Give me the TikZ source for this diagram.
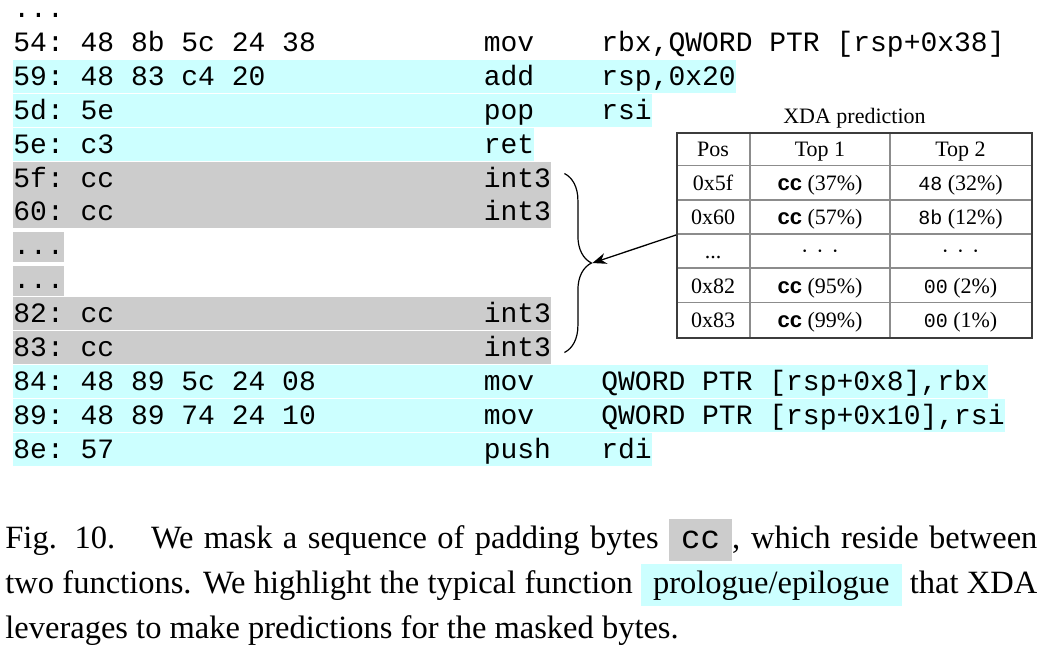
\documentclass[tikz,border=0pt]{standalone}
\usepackage{fontspec}
\setmainfont{Liberation Serif}
\setsansfont{Liberation Sans}
\setmonofont{Liberation Mono}
\usetikzlibrary{positioning, calc, decorations.pathreplacing, arrows.meta}

\definecolor{fncyan}{RGB}{204,255,255}
\definecolor{padgray}{RGB}{204,204,204}
\definecolor{tblframe}{RGB}{60,60,60}
\definecolor{tblrule}{RGB}{140,140,140}

\newlength\chw
\setlength\chw{8.4pt}
\newcommand\cpad[2]{\makebox[#1\chw][l]{#2}}
\newcommand\codefont{\ttfamily\fontsize{14}{17}\selectfont}
\newcommand\tblfont{\fontsize{11}{13}\selectfont}
\newcommand\capfont{\fontsize{16.25}{22.5}\selectfont}
\newcommand\ccb{\textsf{\bfseries cc}}
\newcommand\tbyte[1]{{\ttfamily\fontsize{10}{12}\selectfont #1}}
\newcommand\middots{\textperiodcentered\hspace{4pt}\textperiodcentered\hspace{4pt}\textperiodcentered}
\newcommand\hlbox[2]{{\setlength\fboxsep{0pt}\colorbox{#1}{\hspace{6pt}\rule[-6.5pt]{0pt}{21pt}#2\hspace{6pt}}}}

\begin{document}
\begin{tikzpicture}[x=1pt, y=1pt,
    codeline/.style={anchor=west, inner xsep=0pt, inner ysep=0pt, text height=12.75pt, text depth=3.7pt, font=\codefont},
    fnband/.style={codeline, fill=fncyan},
    padband/.style={codeline, fill=padgray},
    cell/.style={anchor=base, inner sep=0pt, font=\tblfont}]
  \useasboundingbox (0,0) rectangle (526.5,-325);

  % listing
  \node[codeline, anchor=base west, text height=2pt] (rtop) at (6.5,-8.9) {...};
  \node[codeline] (r54) at (6.5,-21.2) {\cpad{28}{54: 48 8b 5c 24 38}\cpad{7}{mov}rbx,QWORD PTR [rsp+0x38]};
  \node[fnband] (r59) at (6.5,-38.15) {\cpad{28}{59: 48 83 c4 20}\cpad{7}{add}rsp,0x20};
  \node[fnband] (r5d) at (6.5,-55.1) {\cpad{28}{5d: 5e}\cpad{7}{pop}rsi};
  \node[fnband] (r5e) at (6.5,-72.05) {\cpad{28}{5e: c3}ret};
  \node[padband, text depth=4.2pt] (r5f) at (6.5,-89.25) {\cpad{28}{5f: cc}int3};
  \node[padband] (r60) at (6.5,-105.95) {\cpad{28}{60: cc}int3};
  \node[padband, text height=11.5pt] (rskip1) at (6.5,-123.5) {...};
  \node[padband, text height=11.5pt] (rskip2) at (6.5,-140.45) {...};
  \node[padband] (r82) at (6.5,-156.8) {\cpad{28}{82: cc}int3};
  \node[padband] (r83) at (6.5,-173.75) {\cpad{28}{83: cc}int3};
  \node[fnband] (r84) at (6.5,-190.7) {\cpad{28}{84: 48 89 5c 24 08}\cpad{7}{mov}QWORD PTR [rsp+0x8],rbx};
  \node[fnband] (r89) at (6.5,-207.65) {\cpad{28}{89: 48 89 74 24 10}\cpad{7}{mov}QWORD PTR [rsp+0x10],rsi};
  \node[fnband] (r8e) at (6.5,-224.6) {\cpad{28}{8e: 57}\cpad{7}{push}rdi};

  % brace over the padding bytes
  \coordinate (btop) at ([xshift=6.5pt, yshift=2.5pt]r60.east |- r5f.east);
  \coordinate (bbot) at ([xshift=6.5pt, yshift=-2.5pt]r83.east);
  \draw[decorate, decoration={brace, amplitude=13.5pt}, line width=0.6pt] (btop) -- (bbot);
  \coordinate (btip) at ($(btop)!0.5!(bbot)+(13.5,0)$);

  % prediction table
  \draw[tblrule, line width=0.7pt] (375,-65.75) -- (375,-168.25);
  \draw[tblrule, line width=0.7pt] (445,-65.75) -- (445,-168.25);
  \draw[tblrule, line width=0.7pt] (338,-82.83) -- (515.5,-82.83);
  \draw[tblrule, line width=0.7pt] (338,-99.92) -- (515.5,-99.92);
  \draw[tblrule, line width=0.7pt] (338,-117) -- (515.5,-117);
  \draw[tblrule, line width=0.7pt] (338,-134.08) -- (515.5,-134.08);
  \draw[tblrule, line width=0.7pt] (338,-151.17) -- (515.5,-151.17);
  \node[draw=tblframe, line width=1pt, inner sep=0pt, minimum width=177.5pt, minimum height=102.5pt, anchor=north west] (tbl) at (338,-65.75) {};
  \node[above=0.6pt of tbl, inner sep=1pt, font=\tblfont] (ttitle) {XDA prediction};

  \node[cell] (hpos) at (356.5,-78.2) {Pos};
  \node[cell] (htopa) at (410,-78.2) {Top 1};
  \node[cell] (htopb) at (480.25,-78.2) {Top 2};
  \node[cell] (pos5f) at (356.5,-95.3) {0x5f};
  \node[cell] (topa5f) at (410,-95.3) {\ccb{} (37\%)};
  \node[cell] (topb5f) at (480.25,-95.3) {\tbyte{48} (32\%)};
  \node[cell] (pos60) at (356.5,-112.4) {0x60};
  \node[cell] (topa60) at (410,-112.4) {\ccb{} (57\%)};
  \node[cell] (topb60) at (480.25,-112.4) {\tbyte{8b} (12\%)};
  \node[cell] (posskip) at (356.5,-129.4) {...};
  \node[cell] (topaskip) at (410,-129.4) {\middots};
  \node[cell] (topbskip) at (480.25,-129.4) {\middots};
  \node[cell] (pos82) at (356.5,-146.5) {0x82};
  \node[cell] (topa82) at (410,-146.5) {\ccb{} (95\%)};
  \node[cell] (topb82) at (480.25,-146.5) {\tbyte{00} (2\%)};
  \node[cell] (pos83) at (356.5,-163.6) {0x83};
  \node[cell] (topa83) at (410,-163.6) {\ccb{} (99\%)};
  \node[cell] (topb83) at (480.25,-163.6) {\tbyte{00} (1\%)};

  \draw[-{Stealth[length=7pt, width=5.5pt]}, line width=0.65pt] (tbl.west) -- ([xshift=0.5pt]btip);

  % caption
  \node[anchor=base west, inner sep=0pt, font=\capfont] (cap1) at (2.5,-274) {\makebox[516pt][s]{Fig. 10.\hspace{1.1em}We mask a sequence of padding bytes \hlbox{padgray}{\texttt{cc}}, which reside between}};
  \node[anchor=base west, inner sep=0pt, font=\capfont] (cap2) at (2.5,-296.5) {\makebox[516pt][s]{two functions. We highlight the typical function \hlbox{fncyan}{prologue/epilogue} that XDA}};
  \node[anchor=base west, inner sep=0pt, font=\capfont] (cap3) at (2.5,-319) {leverages to make predictions for the masked bytes.};
\end{tikzpicture}
\end{document}
